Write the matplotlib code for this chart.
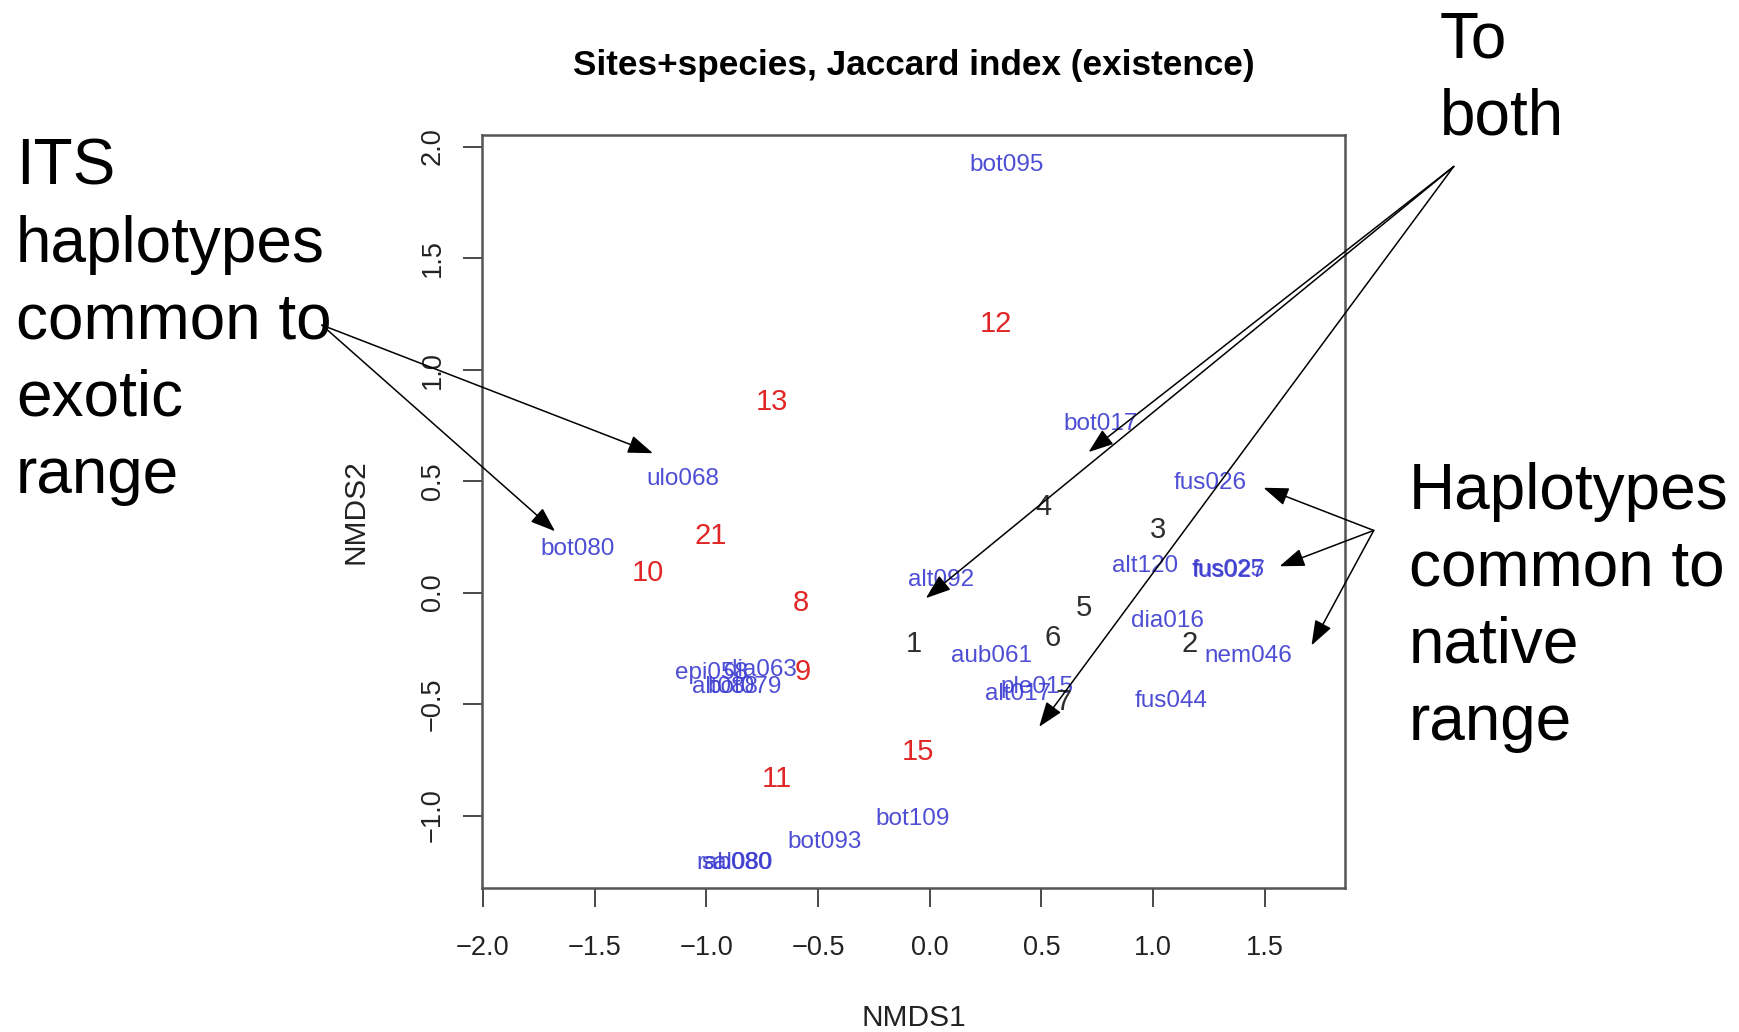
import matplotlib
matplotlib.use('Agg')
import matplotlib.pyplot as plt

plt.rcParams['font.family'] = ['Liberation Sans', 'DejaVu Sans']
plt.rcParams['axes.unicode_minus'] = True

# ---- data (NMDS scores) ----
site_labels = ["bot095", "bot017", "ulo068", "bot080", "fus026", "alt120", "fus025", "fus027",
               "alt092", "dia016", "nem046", "aub061", "ple015", "alt017", "fus044",
               "epi058", "dia063", "alt088", "bot079", "bot109", "bot093", "rab080", "sal080"]
site_x = [0.344, 0.766, -1.106, -1.578, 1.253, 0.965, 1.336, 1.342,
          0.051, 1.064, 1.427, 0.275, 0.478, 0.394, 1.079,
          -0.979, -0.759, -0.916, -0.827, -0.078, -0.470, -0.875, -0.860]
site_y = [1.916, 0.757, 0.508, 0.194, 0.493, 0.120, 0.100, 0.098,
          0.055, -0.128, -0.283, -0.283, -0.423, -0.453, -0.487,
          -0.361, -0.346, -0.423, -0.423, -1.015, -1.119, -1.212, -1.212]

exotic_labels = ["12", "13", "21", "10", "8", "9", "15", "11"]
exotic_x = [0.295, -0.704, -0.982, -1.260, -0.575, -0.567, -0.053, -0.684]
exotic_y = [1.205, 0.856, 0.254, 0.089, -0.049, -0.356, -0.716, -0.836]

native_labels = ["4", "3", "5", "6", "1", "2", "7"]
native_x = [0.508, 1.020, 0.692, 0.548, -0.073, 1.164, 0.598]
native_y = [0.384, 0.279, -0.069, -0.204, -0.229, -0.229, -0.492]

x_ticks = [-2.0, -1.5, -1.0, -0.5, 0.0, 0.5, 1.0, 1.5]
y_ticks = [-1.0, -0.5, 0.0, 0.5, 1.0, 1.5, 2.0]

title = "Sites+species, Jaccard index (existence)"
xlabel = "NMDS1"
ylabel = "NMDS2"

# annotation texts and arrow targets (data coords)
note_exotic = "ITS\nhaplotypes\ncommon to\nexotic\nrange"
exotic_targets = [(-1.239, 0.625), (-1.677, 0.275)]
note_both = "To\nboth"
both_targets = [(0.711, 0.630), (-0.017, -0.025), (0.490, -0.602)]
note_native = "Haplotypes\ncommon to\nnative\nrange"
native_targets = [(1.494, 0.470), (1.566, 0.118), (1.709, -0.237)]

# ---- figure ----
fig = plt.figure(figsize=(17.4, 10.32), dpi=100)
ax = fig.add_axes([0.2770, 0.1395, 0.4960, 0.7297])
ax.set_xlim(-2.004, 1.859)
ax.set_ylim(-1.325, 2.052)

blue = '#3b3bd0'
red = '#e02626'
dark = '#2e2e2e'

for lab, x, y in zip(site_labels, site_x, site_y):
    ax.text(x, y, lab, color=blue, fontsize=17.5, ha='center', va='center', alpha=0.9)
for lab, x, y in zip(exotic_labels, exotic_x, exotic_y):
    ax.text(x, y, lab, color=red, fontsize=21, ha='center', va='center')
for lab, x, y in zip(native_labels, native_x, native_y):
    ax.text(x, y, lab, color=dark, fontsize=21, ha='center', va='center')

ax.set_xticks(x_ticks)
ax.set_xticklabels([f"{t:.1f}".replace('-', '\u2212') for t in x_ticks])
ax.set_yticks(y_ticks)
ax.set_yticklabels([f"{t:.1f}".replace('-', '\u2212') for t in y_ticks])
for lab in ax.get_yticklabels():
    lab.set_rotation(90)
    lab.set_va('center')

ax.tick_params(direction='out', length=14, width=1.3, color='#3a3a3a',
               labelsize=19.5, labelcolor='#222222')
ax.tick_params(axis='x', pad=20)
ax.tick_params(axis='y', pad=12)
for sp in ax.spines.values():
    sp.set_color('#555555')
    sp.set_linewidth(1.8)

ax.set_title(title, fontsize=25.3, fontweight='bold', pad=43)
ax.set_xlabel(xlabel, fontsize=21.5, va='center', color='#222222')
ax.xaxis.set_label_coords(0.5, -0.172)
ax.set_ylabel(ylabel, fontsize=21.5, va='center', color='#222222')
ax.yaxis.set_label_coords(-0.147, 0.5)

# ---- annotations ----
big = dict(fontsize=46, ha='left', va='top', linespacing=1.36, color='black')
fig.text(0.0092, 0.8663, note_exotic, **big)
fig.text(0.8276, 0.990, note_both, **big)
fig.text(0.8098, 0.5524, note_native, **big)

aprops = dict(arrowstyle='-|>,head_length=0.55,head_width=0.2', mutation_scale=28,
              lw=1.1, color='black', shrinkA=0, shrinkB=0)
tails = [(0.1850, 0.685), (0.8355, 0.8387), (0.7895, 0.486)]
for tail, targets in zip(tails, [exotic_targets, both_targets, native_targets]):
    for tx, ty in targets:
        ax.annotate('', xy=(tx, ty), xycoords='data', xytext=tail,
                    textcoords='figure fraction', arrowprops=aprops,
                    annotation_clip=False, zorder=10)

fig.savefig('out.png', dpi=100)
